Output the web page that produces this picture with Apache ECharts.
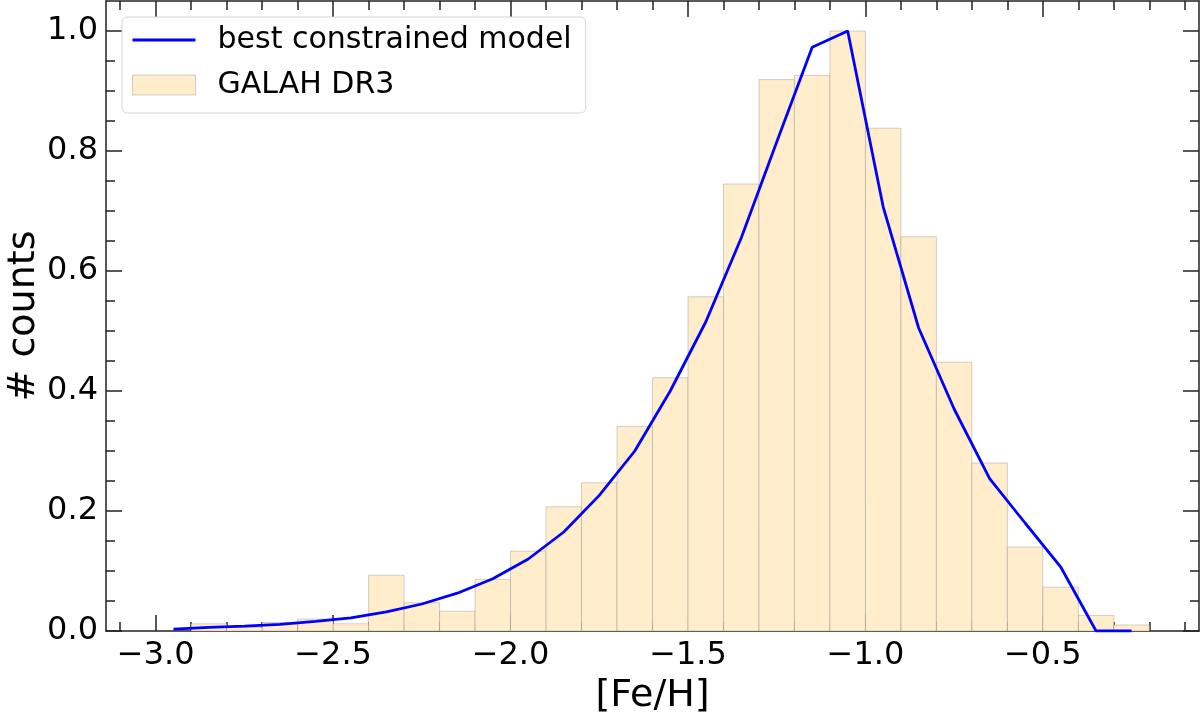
<!DOCTYPE html>
<html>
<head>
<meta charset="utf-8">
<script src="https://cdn.jsdelivr.net/npm/echarts@6/dist/echarts.min.js"></script>
<style>
html, body { margin: 0; padding: 0; background: #fff; }
#feh-hist { width: 1200px; height: 714px; }
</style>
</head>
<body>
<div id="feh-hist"></div>
<script>
// GALAH DR3 histogram, left edge of each 0.1 dex bin
const binLeft = [-2.9, -2.8, -2.7, -2.6, -2.5, -2.4, -2.3, -2.2, -2.1, -2.0,
  -1.9, -1.8, -1.7, -1.6, -1.5, -1.4, -1.3, -1.2, -1.1, -1.0,
  -0.9, -0.8, -0.7, -0.6, -0.5, -0.4, -0.3];
const galahCounts = [0.012, 0.006, 0.014, 0.020, 0.012, 0.093, 0.047, 0.033, 0.086, 0.133,
  0.207, 0.247, 0.341, 0.422, 0.557, 0.745, 0.919, 0.926, 1.0, 0.838,
  0.657, 0.448, 0.280, 0.140, 0.073, 0.026, 0.010];

// model curve, at bin centres
const modelX = [-2.95, -2.85, -2.75, -2.65, -2.55, -2.45, -2.35, -2.25, -2.15, -2.05,
  -1.95, -1.85, -1.75, -1.65, -1.55, -1.45, -1.35, -1.25, -1.15, -1.05,
  -0.95, -0.85, -0.75, -0.65, -0.55, -0.45, -0.35, -0.25];
const modelY = [0.003, 0.006, 0.008, 0.011, 0.016, 0.022, 0.032, 0.045, 0.063, 0.087,
  0.120, 0.165, 0.226, 0.300, 0.400, 0.515, 0.655, 0.815, 0.973, 1.0,
  0.707, 0.505, 0.370, 0.254, 0.180, 0.107, 0.0, 0.0];

// tick positions
const xMajor = [-3.0, -2.5, -2.0, -1.5, -1.0, -0.5];
const xMinor = [-3.1, -2.9, -2.8, -2.7, -2.6, -2.4, -2.3, -2.2, -2.1, -1.9, -1.8, -1.7, -1.6,
  -1.4, -1.3, -1.2, -1.1, -0.9, -0.8, -0.7, -0.6, -0.4, -0.3, -0.2, -0.1];
const yMajor = [0.0, 0.2, 0.4, 0.6, 0.8, 1.0];
const yMinor = [0.05, 0.1, 0.15, 0.25, 0.3, 0.35, 0.45, 0.5, 0.55, 0.65, 0.7, 0.75,
  0.85, 0.9, 0.95];

const font = 'DejaVu Sans';
const ink = '#222';

let myChart = echarts.init(document.getElementById('feh-hist'));

function fmt(v) {
  return v.toFixed(1).replace('-', '\u2212');
}

function xAx(position, ticks, len, showLabel, showLine) {
  return {
    type: 'value', position: position, min: -3.14, max: -0.06,
    axisLine: { show: showLine, onZero: false, lineStyle: { color: ink, width: 1.5 } },
    axisTick: { show: true, inside: true, length: len, customValues: ticks,
      lineStyle: { color: ink, width: 1.5 } },
    axisLabel: { show: showLabel, customValues: ticks, formatter: fmt, margin: 9,
      fontFamily: font, fontSize: 32, color: '#000' },
    splitLine: { show: false }
  };
}

function yAx(position, ticks, len, showLabel, showLine) {
  return {
    type: 'value', position: position, min: 0, max: 1.05,
    axisLine: { show: showLine, onZero: false, lineStyle: { color: ink, width: 1.5 } },
    axisTick: { show: true, inside: true, length: len, customValues: ticks,
      lineStyle: { color: ink, width: 1.5 } },
    axisLabel: { show: showLabel, customValues: ticks, formatter: fmt, margin: 8,
      fontFamily: font, fontSize: 32, color: '#000' },
    splitLine: { show: false }
  };
}

let xAxes = [
  xAx('bottom', xMajor, 16, true, true),
  xAx('bottom', xMinor, 9, false, false),
  xAx('top', xMajor, 16, false, true),
  xAx('top', xMinor, 9, false, false)
];
xAxes[0].name = '[Fe/H]';
xAxes[0].nameLocation = 'middle';
xAxes[0].nameGap = 44;
xAxes[0].nameTextStyle = { fontFamily: font, fontSize: 38, color: '#000' };

let yAxes = [
  yAx('left', yMajor, 16, true, true),
  yAx('left', yMinor, 9, false, false),
  yAx('right', yMajor, 16, false, true),
  yAx('right', yMinor, 9, false, false)
];
yAxes[0].name = '# counts';
yAxes[0].nameLocation = 'middle';
yAxes[0].nameGap = 63;
yAxes[0].nameMoveOverlap = false;
yAxes[0].nameTextStyle = { fontFamily: font, fontSize: 38, color: '#000' };

let option = {
  animation: false,
  backgroundColor: '#fff',
  grid: { left: 106, right: 1, top: 1, bottom: 83, outerBoundsMode: 'none', containLabel: false },
  xAxis: xAxes,
  yAxis: yAxes,
  legend: {
    orient: 'vertical',
    left: 122, top: 17,
    padding: [6, 14, 11, 10],
    itemWidth: 63, itemHeight: 20, itemGap: 11,
    borderColor: '#d6d6d6', borderWidth: 1, borderRadius: 5,
    backgroundColor: 'rgba(255,255,255,0.8)',
    textStyle: { fontFamily: font, fontSize: 30, color: '#000', lineHeight: 34,
      padding: [0, 0, 0, 17] },
    data: [
      { name: 'best constrained model',
        icon: 'path://M0,0 L0.01,0 M0,20 L0.01,20 M0,8.6 L63,8.6 L63,11.4 L0,11.4 Z',
        itemStyle: { color: '#0000ff', borderWidth: 0 } },
      { name: 'GALAH DR3', icon: 'rect',
        itemStyle: { color: '#ffedcc', borderColor: 'rgba(128,128,128,0.35)', borderWidth: 1 } }
    ]
  },
  series: [
    {
      name: 'GALAH DR3',
      type: 'custom',
      xAxisIndex: 0, yAxisIndex: 0,
      itemStyle: { color: '#ffedcc' },
      encode: { x: [0, 1], y: 2 },
      renderItem: function (params, api) {
        let p0 = api.coord([api.value(0), api.value(2)]);
        let p1 = api.coord([api.value(1), 0]);
        return {
          type: 'rect',
          shape: { x: p0[0], y: p0[1], width: p1[0] - p0[0], height: p1[1] - p0[1] },
          style: { fill: '#ffedcc', stroke: 'rgba(128,128,128,0.35)', lineWidth: 1 }
        };
      },
      data: binLeft.map(function (x, i) { return [x, x + 0.1, galahCounts[i]]; }),
      z: 1
    },
    {
      name: 'best constrained model',
      type: 'line',
      xAxisIndex: 0, yAxisIndex: 0,
      symbol: 'none',
      color: '#0000ff',
      lineStyle: { color: '#0000ff', width: 2.8 },
      data: modelX.map(function (x, i) { return [x, modelY[i]]; }),
      z: 3
    }
  ]
};
myChart.setOption(option);

window.addEventListener('resize', function () {
  myChart.resize();
});
</script>
</body>
</html>
